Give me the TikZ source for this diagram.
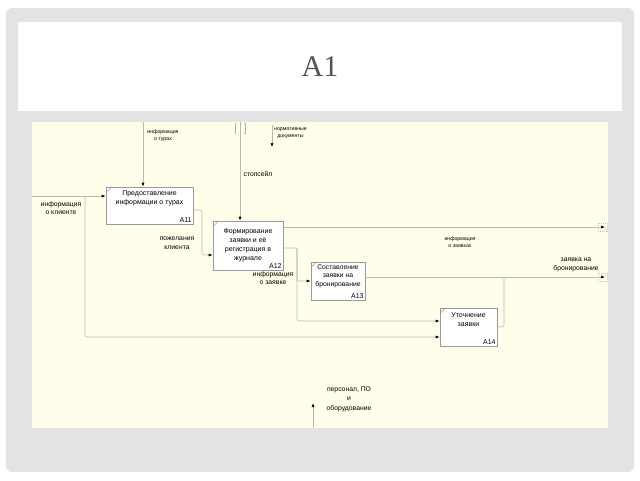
\documentclass[tikz,border=0pt]{standalone}
\usepackage{fontspec}
\setmainfont{Liberation Sans}
\newfontfamily\titlefont{Liberation Serif}
\usetikzlibrary{arrows.meta, positioning}

\begin{document}
\begin{tikzpicture}[
    x=1pt, y=-1pt,
    flow/.style={draw=gray!55, line width=0.6pt, -{Latex[black, length=4pt, width=3pt]}},
    func/.style={draw=gray!80, fill=white, line width=0.6pt, align=center, inner sep=1pt, font=\fontsize{7}{9}\selectfont},
    idtxt/.style={inner sep=1.5pt, font=\fontsize{7}{7}\selectfont},
    lbl/.style={align=center, inner sep=0pt, font=\fontsize{6.8}{8.8}\selectfont},
    tinylbl/.style={align=center, inner sep=0pt, font=\fontsize{5.2}{6.8}\selectfont},
    edgebox/.style={draw=gray!45, line width=0.4pt, dash pattern=on 1pt off 1pt}
]
\useasboundingbox (0,0) rectangle (640,480);

% Slide frame
\fill[gray!22, rounded corners=6pt] (6,8) rectangle (634,472);
\fill[white] (18,22) rectangle (622,111);
\node[text=gray!65!black, font=\titlefont\fontsize{30}{30}\selectfont] (title) at (320,67) {A1};
\fill[yellow!8] (32,122) rectangle (608,428);

% Functions
\node[func, minimum width=87pt, minimum height=37pt] (a11) at (149.5,205.5) {Предоставление\\ информации о турах\\[6pt]};
\node[func, minimum width=70pt, minimum height=49pt] (a12) at (248,245.5) {Формирование\\ заявки и её\\ регистрация в\\ журнале};
\node[func, minimum width=54pt, minimum height=38pt, font=\fontsize{6.8}{8.8}\selectfont] (a13) at (338,281) {Составление\\ заявки на\\ бронирование\\[2pt]};
\node[func, minimum width=57pt, minimum height=38pt] (a14) at (468.5,327) {Уточнение\\ заявки\\[6pt]};
\foreach \f/\t in {a11/A11, a12/A12, a13/A13, a14/A14} {
  \node[idtxt, anchor=south east] at (\f.south east) {\t};
  \draw[gray!80, line width=0.5pt] ([yshift=-6pt]\f.north west) -- ([xshift=6pt]\f.north west);
}

% Free ends
\coordinate (tur) at (143,122);
\coordinate (stop) at (240,122);
\coordinate (norm) at (272,125);
\coordinate (normend) at (272,147);
\coordinate (klient) at (32,196);
\coordinate (br) at (85,196);
\coordinate (j1) at (202,210);
\coordinate (j2) at (297,248);
\coordinate (j4) at (504,277);
\coordinate (out1) at (605,227);
\coordinate (out2) at (605,277);
\coordinate (mech) at (313,428);
\coordinate (mechend) at (313,403);

% Tunnel mark
\draw[gray!60, line width=0.5pt] (236,123) -- (235,123) -- (235,133) -- (236,133);
\draw[gray!60, line width=0.5pt] (244,123) -- (245,123) -- (245,133) -- (244,133);

% Arrows
\draw[flow] (tur) -- (tur |- a11.north);
\draw[flow] (stop) -- (stop |- a12.north);
\draw[flow] (norm) -- (normend);
\draw[flow] (klient) -- (klient -| a11.west);
\draw[flow, rounded corners=2pt] (br) |- ([yshift=-10pt]a14.west);
\draw[flow, rounded corners=2pt] (j1 -| a11.east) -- (j1) |- ([yshift=-9.5pt]a12.west);
\draw[flow] (out1 -| a12.east) -- (out1);
\draw[flow, rounded corners=2pt] (j2 -| a12.east) -- (j2) |- (a13.west);
\draw[flow, rounded corners=2pt] (j2) |- ([yshift=6pt]a14.west);
\draw[flow] (out2 -| a13.east) -- (out2);
\draw[draw=gray!55, line width=0.6pt, rounded corners=2pt] (a14.east) -| (j4);
\draw[flow] (mech) -- (mechend);
\foreach \o in {out1, out2}
  \draw[edgebox] ([xshift=-7pt, yshift=4pt]\o) rectangle ([xshift=2pt, yshift=-4pt]\o);

% Labels
\node[tinylbl] (ltur) at (163,136) {информация\\ о турах};
\node[tinylbl, anchor=west] (lnorm) at (274,133) {нормативные\\ документы};
\node[lbl] (lstop) at (258,174) {стопсейл};
\node[lbl] (lklient) at (61,208) {информация\\ о клиенте};
\node[lbl] (lpozh) at (177,243) {пожелания\\ клиента};
\node[lbl] (lzayavke) at (273,278) {информация\\ о заявке};
\node[tinylbl] (lzayavkah) at (460,242) {информация\\ о заявках};
\node[lbl] (lbron) at (576,265) {заявка на\\ бронирование};
\node[lbl, font=\fontsize{6.8}{9.5}\selectfont] (lmech) at (349,399) {персонал, ПО\\ и\\ оборудование};

\end{tikzpicture}
\end{document}
